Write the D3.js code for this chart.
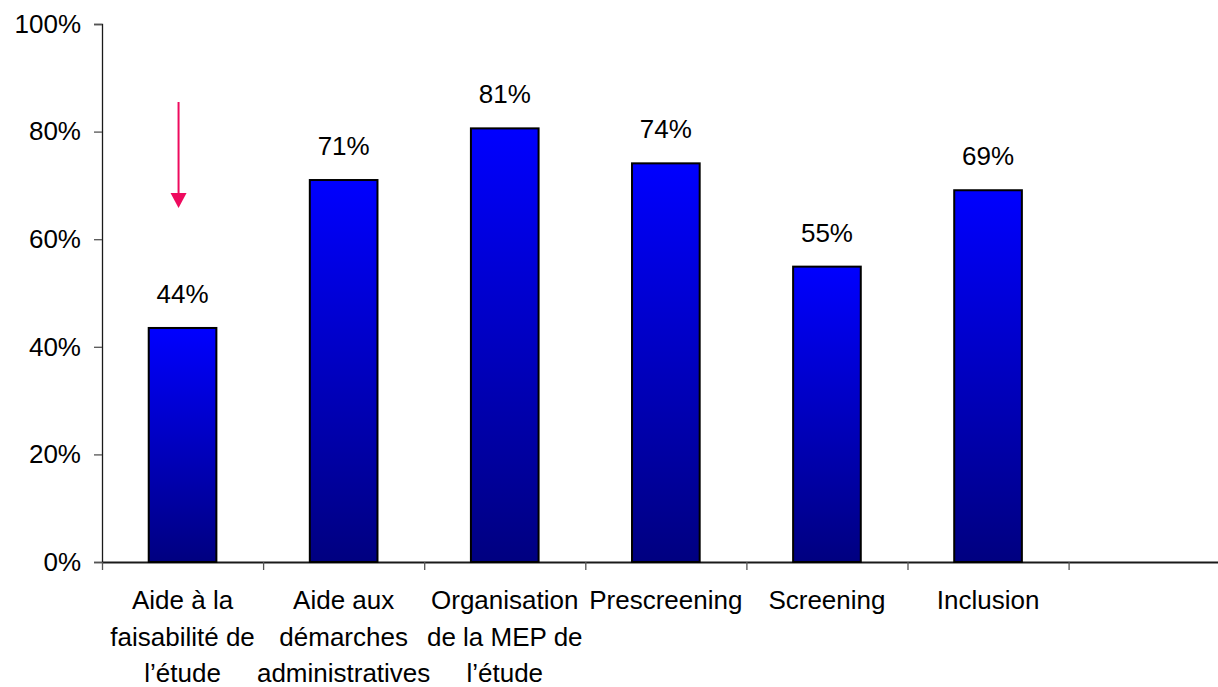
<!DOCTYPE html>
<html>
<head>
<meta charset="utf-8">
<script src="https://cdn.jsdelivr.net/npm/d3@7"></script>
<style>
  body { margin: 0; background: #fff; }
  svg { display: block; font-family: "Liberation Sans", Arial, sans-serif; }
</style>
</head>
<body>
<div id="chart"></div>
<script>

// *** DATA ***
let categories = [
  "Aide à la\nfaisabilité de\nl\u2019étude",
  "Aide aux\ndémarches\nadministratives",
  "Organisation\nde la MEP de\nl\u2019étude",
  "Prescreening",
  "Screening",
  "Inclusion",
  ""
]
let values = [43.5, 71.0, 80.6, 74.1, 54.9, 69.1]
let yTicks = [0, 20, 40, 60, 80, 100]
let arrowFrom = 85.5, arrowTo = 65.8

// *** SETTINGS ***
let width = 1218, height = 687
let plotLeft = 102, plotTop = 24, plotBottom = 562
let step = 161.1
let fontSize = 26
let colors = { top: "#0000FF", bottom: "#000080", arrow: "#EE0A5E", axis: "#1a1a1a" }

let svg = d3.select("#chart").append("svg")
  .attr("width", width)
  .attr("height", height)

//Gradient for bars
let grad = svg.append("defs").append("linearGradient")
  .attr("id", "barGrad")
  .attr("x1", 0).attr("y1", 0).attr("x2", 0).attr("y2", 1)
grad.append("stop").attr("offset", "0%").attr("stop-color", colors.top)
grad.append("stop").attr("offset", "100%").attr("stop-color", colors.bottom)

//Scales
let x = d3.scaleBand()
  .domain(d3.range(categories.length))
  .range([plotLeft, plotLeft + step * categories.length])
  .paddingInner(0.58)
  .paddingOuter(0.29)

let xEdge = d3.scaleLinear()
  .domain([0, categories.length])
  .range([plotLeft, plotLeft + step * categories.length])

let y = d3.scaleLinear()
  .domain([0, 100])
  .range([plotBottom, plotTop])

//Y axis
let yAxis = svg.append("g")
  .attr("transform", `translate(${plotLeft},0)`)
  .call(d3.axisLeft(y).tickValues(yTicks).tickSize(8).tickPadding(13).tickFormat(d => d + "%"))
yAxis.select(".domain").attr("stroke", colors.axis).attr("stroke-width", 1.3)
yAxis.selectAll(".tick line").attr("stroke", "#555").attr("stroke-width", 1.3)
yAxis.selectAll("text").style("font-size", fontSize + "px").attr("fill", "#000")

//X axis with ticks on category boundaries
let xAxis = svg.append("g")
  .attr("transform", `translate(0,${plotBottom})`)
  .call(d3.axisBottom(xEdge).tickValues(d3.range(categories.length + 1)).tickSize(8).tickSizeOuter(0).tickFormat(""))
xAxis.select(".domain").attr("stroke", colors.axis).attr("stroke-width", 1.8)
xAxis.selectAll(".tick line").attr("stroke", "#555").attr("stroke-width", 1.3)

//Bars
svg.append("g")
  .selectAll("rect")
  .data(values)
  .enter()
  .append("rect")
    .attr("x", (d, i) => x(i))
    .attr("y", d => y(d))
    .attr("width", x.bandwidth())
    .attr("height", d => y(0) - y(d))
    .attr("fill", "url(#barGrad)")
    .attr("stroke", "#000")
    .attr("stroke-width", 2)

//Value labels
svg.append("g")
  .selectAll("text")
  .data(values)
  .enter()
  .append("text")
    .attr("x", (d, i) => x(i) + x.bandwidth() / 2)
    .attr("y", d => y(d) - 25)
    .attr("text-anchor", "middle")
    .style("font-size", fontSize + "px")
    .text(d => Math.round(d) + "%")

//Category labels
let catLabels = svg.append("g")
  .selectAll("text")
  .data(categories)
  .enter()
  .append("text")
    .attr("text-anchor", "middle")
    .style("font-size", fontSize + "px")

catLabels.each(function(d, i) {
  let cx = x(i) + x.bandwidth() / 2
  d3.select(this).selectAll("tspan")
    .data(d.split("\n"))
    .enter()
    .append("tspan")
      .attr("x", cx)
      .attr("y", (t, j) => plotBottom + 47 + j * 36.5)
      .text(t => t)
})

//Arrow pointing at the first bar
let ax = x(0) + x.bandwidth() / 2 - 4
svg.append("line")
  .attr("x1", ax).attr("x2", ax)
  .attr("y1", y(arrowFrom)).attr("y2", y(arrowTo) - 14)
  .attr("stroke", colors.arrow)
  .attr("stroke-width", 2)
svg.append("path")
  .attr("d", `M${ax - 8},${y(arrowTo) - 15} L${ax + 8},${y(arrowTo) - 15} L${ax},${y(arrowTo)} Z`)
  .attr("fill", colors.arrow)

</script>
</body>
</html>
